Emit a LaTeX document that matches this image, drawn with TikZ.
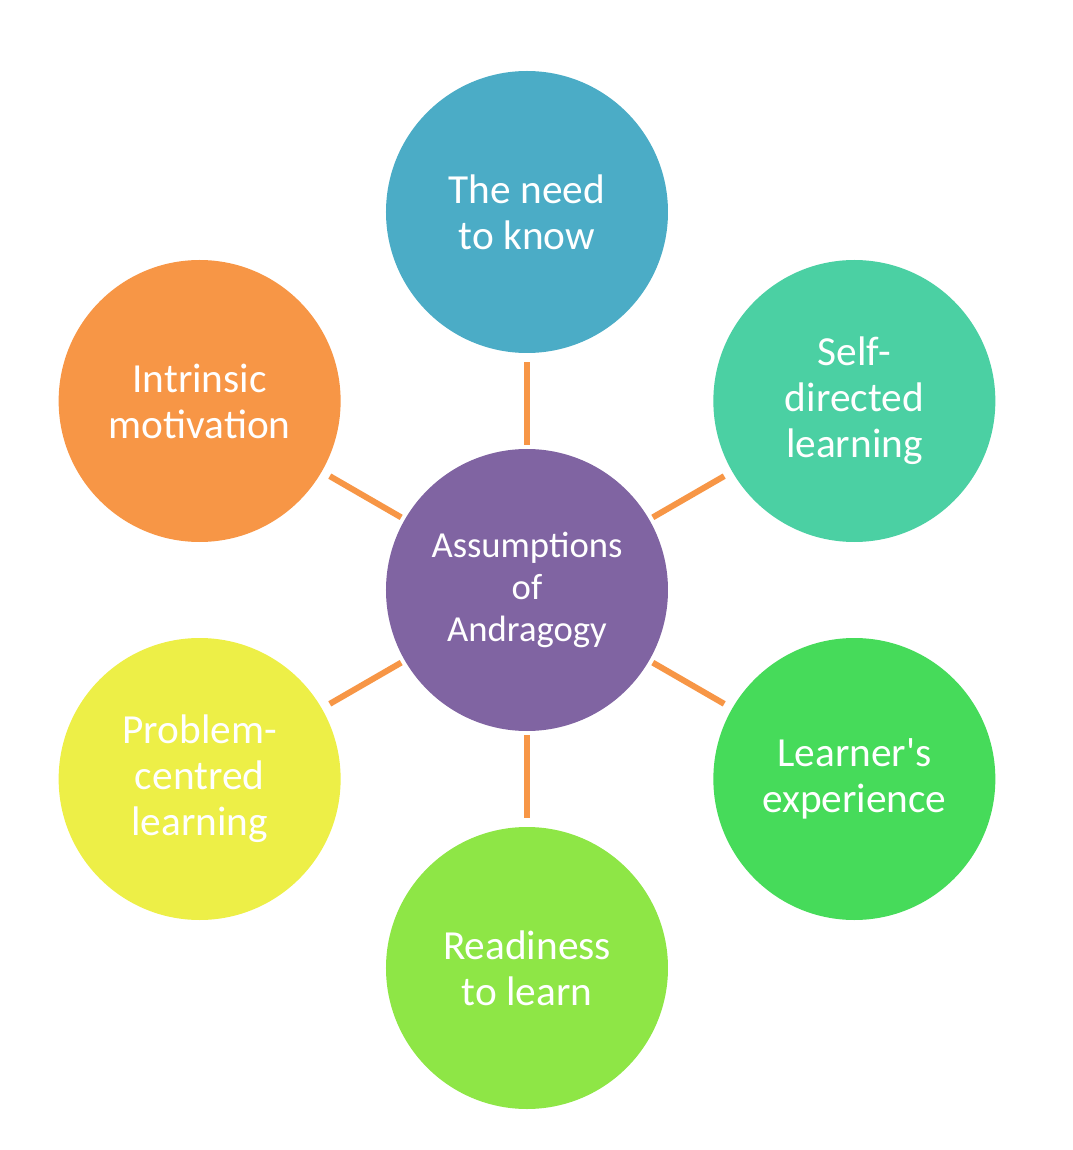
\documentclass[tikz,border=0pt]{standalone}
\usepackage{fontspec}
\setmainfont{Carlito}
\usetikzlibrary{positioning}
\definecolor{hubfill}{HTML}{8064A2}
\definecolor{needfill}{HTML}{4BACC6}
\definecolor{selffill}{HTML}{4BD0A3}
\definecolor{expfill}{HTML}{46DB5A}
\definecolor{readyfill}{HTML}{8EE646}
\definecolor{probfill}{HTML}{EDEF47}
\definecolor{motivfill}{HTML}{F79646}
\definecolor{linkcol}{HTML}{F79646}
\tikzset{
  every node/.style={text=white,align=center},
  hub/.style={circle,fill=hubfill,minimum size=211.5pt,inner sep=0pt,font=\fontsize{27.5}{31.5}\selectfont},
  bubble/.style={circle,minimum size=211.5pt,inner sep=0pt,font=\fontsize{31}{34.5}\selectfont},
  link/.style={draw=linkcol,line width=4.5pt,shorten <=3pt,shorten >=6.75pt},
}
\begin{document}
\begin{tikzpicture}
\useasboundingbox (-395.25pt,-420pt) rectangle (409.5pt,442.5pt);
\node[hub] (hub) at (0,0) {Assumptions\\of\\Andragogy};
\node[bubble,fill=needfill] (need) at (90:283.5pt) {The need\\to know};
\node[bubble,fill=selffill] (self) at (30:283.5pt) {Self-\\directed\\learning};
\node[bubble,fill=expfill] (exp) at (-30:283.5pt) {Learner\textquotesingle s\\experience};
\node[bubble,fill=readyfill] (ready) at (-90:283.5pt) {Readiness\\to learn};
\node[bubble,fill=probfill] (prob) at (-150:283.5pt) {Problem-\\centred\\learning};
\node[bubble,fill=motivfill] (motiv) at (150:283.5pt) {Intrinsic\\motivation};
\draw[link] (hub) -- (need);
\draw[link] (hub) -- (self);
\draw[link] (hub) -- (exp);
\draw[link] (hub) -- (ready);
\draw[link] (hub) -- (prob);
\draw[link] (hub) -- (motiv);
\end{tikzpicture}
\end{document}
